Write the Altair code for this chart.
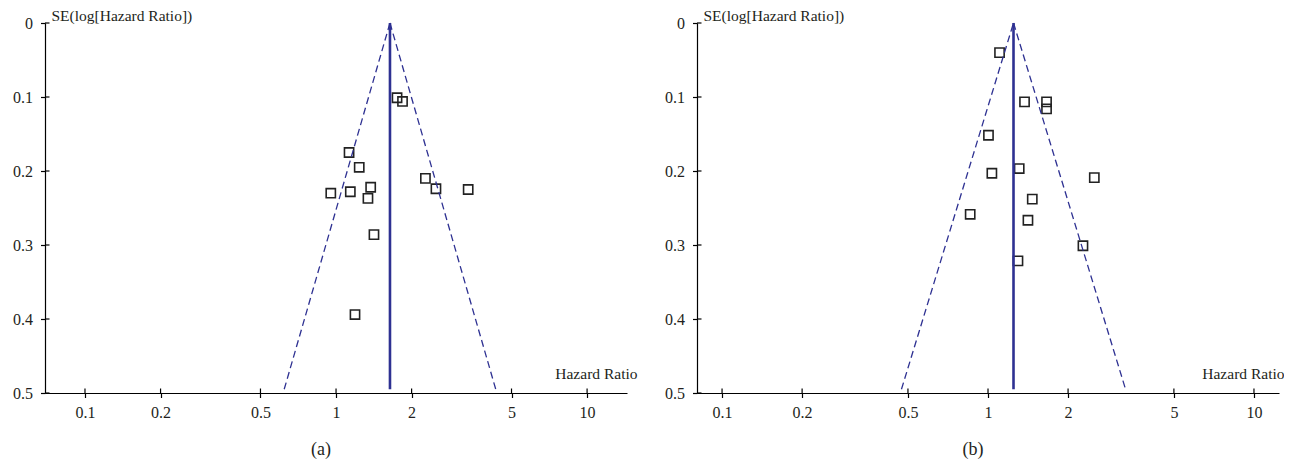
import math
import altair as alt
import pandas as pd

# ---- data ----
a_hr = [1.75, 1.84, 1.127, 1.237, 2.27, 1.374, 2.50, 3.36, 0.953, 1.14, 1.34, 1.416, 1.19]
a_se = [0.101, 0.106, 0.175, 0.195, 0.210, 0.222, 0.224, 0.225, 0.230, 0.228, 0.237, 0.286, 0.394]
a_pooled = 1.64

b_hr = [1.105, 1.372, 1.66, 1.66, 1.004, 1.31, 1.034, 2.51, 1.467, 0.857, 1.413, 2.275, 1.296]
b_se = [0.040, 0.1066, 0.1066, 0.116, 0.1517, 0.1967, 0.203, 0.209, 0.238, 0.2585, 0.2666, 0.301, 0.3215]
b_pooled = 1.247

x_ticks = [0.1, 0.2, 0.5, 1, 2, 5, 10]
y_ticks = [0, 0.1, 0.2, 0.3, 0.4, 0.5]

a_domain = [0.0693, 14.42]
b_domain = [0.0805, 12.42]
se_max = 0.5
se_line_end = 0.495

W, H = 582, 370
FONT = "Liberation Serif"
BLUE = "#2e3192"
TEXT = "#231f20"


def panel(hr, se, pooled, xdom, label, title_ext):
    pts = pd.DataFrame({"hr": hr, "se": se})
    z = 1.96 * se_line_end
    left = pd.DataFrame({"hr": [pooled * math.exp(-z), pooled], "se": [se_line_end, 0.0]})
    right = pd.DataFrame({"hr": [pooled, pooled * math.exp(z)], "se": [0.0, se_line_end]})
    vline = pd.DataFrame({"hr": [pooled], "se0": [0.0], "se1": [se_line_end]})
    xt = pd.DataFrame({"v": x_ticks})
    yt = pd.DataFrame({"v": y_ticks})

    xscale = alt.Scale(type="log", domain=xdom, nice=False, zero=False)
    yscale = alt.Scale(domain=[0, se_max], reverse=True, nice=False, zero=False)

    xaxis = alt.Axis(
        values=x_ticks, format="~g", title="Hazard Ratio",
        titleX=W + title_ext, titleY=-15, titleAlign="right", titleBaseline="alphabetic",
        titleFontSize=15.5, titleFont=FONT, titleFontWeight="normal",
        titleColor=TEXT, labelPadding=7, tickSize=4.5,
    )
    yaxis = alt.Axis(
        values=y_ticks, format="~g", title="SE(log[Hazard Ratio])",
        titleX=6, titleY=-2.5, titleAngle=0, titleAlign="left", titleBaseline="alphabetic",
        titleFontSize=15.5, titleFont=FONT, titleFontWeight="normal", titleColor=TEXT,
        labelPadding=8, tickSize=4.5,
    )

    dash = dict(color=BLUE, strokeWidth=1.3, strokeDash=[7, 4])
    fun_l = alt.Chart(left).mark_line(**dash).encode(
        x=alt.X("hr:Q", scale=xscale), y=alt.Y("se:Q", scale=yscale)
    )
    fun_r = alt.Chart(right).mark_line(**dash).encode(
        x=alt.X("hr:Q", scale=xscale), y=alt.Y("se:Q", scale=yscale)
    )
    vl = alt.Chart(vline).mark_rule(color=BLUE, strokeWidth=2.6).encode(
        x=alt.X("hr:Q", scale=xscale), y=alt.Y("se0:Q", scale=yscale), y2="se1:Q"
    )
    xin = alt.Chart(xt).mark_rule(color="black", strokeWidth=1.2).encode(
        x=alt.X("v:Q", scale=xscale), y=alt.value(H), y2=alt.value(H - 4.5)
    )
    yin = alt.Chart(yt).mark_rule(color="black", strokeWidth=1.2).encode(
        y=alt.Y("v:Q", scale=yscale), x=alt.value(0), x2=alt.value(4.5)
    )
    base_pts = alt.Chart(pts).mark_point(
        shape="square", filled=False, size=85, color="#222222", strokeWidth=1.6, opacity=1
    ).encode(
        x=alt.X("hr:Q", scale=xscale, axis=xaxis),
        y=alt.Y("se:Q", scale=yscale, axis=yaxis),
    )
    return alt.layer(base_pts, fun_l, fun_r, vl, xin, yin).properties(
        width=W, height=H,
        title=alt.Title(label, orient="bottom", dx=-15, offset=20, fontSize=18,
                        font=FONT, fontWeight="normal", color=TEXT),
    )


chart = alt.hconcat(
    panel(a_hr, a_se, a_pooled, a_domain, "(a)", 10),
    panel(b_hr, b_se, b_pooled, b_domain, "(b)", 5),
    spacing=27,
).properties(
    padding={"left": 4, "top": 0, "right": 0, "bottom": 0}
).configure_view(stroke=None).configure_axis(
    grid=False, domainColor="black", tickColor="black", domainWidth=1.2, tickWidth=1.2,
    labelFont=FONT, labelFontSize=16, labelColor=TEXT,
)

chart.save("out.html", embed_options={"renderer": "svg", "actions": False})
